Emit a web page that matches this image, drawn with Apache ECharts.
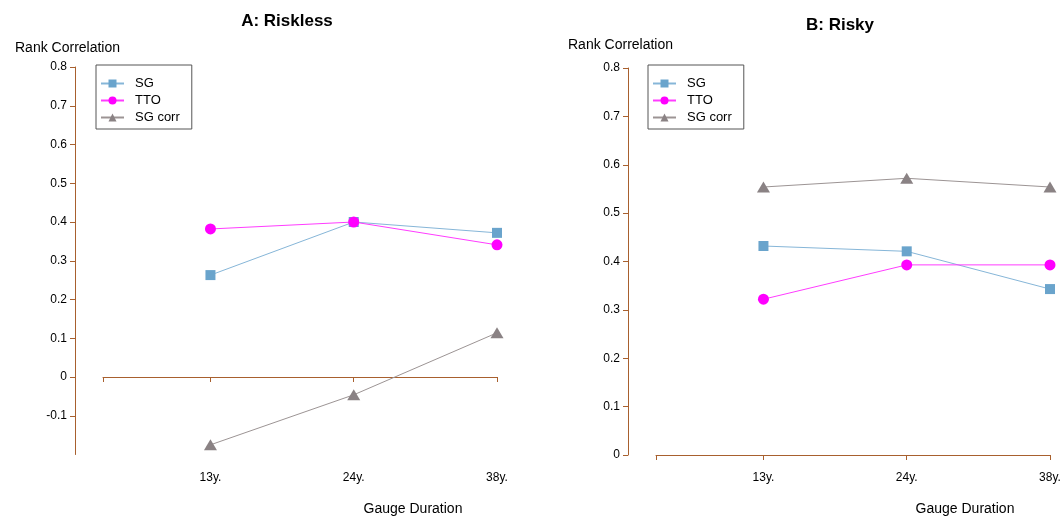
<!DOCTYPE html>
<html>
<head>
<meta charset="utf-8">
<script src="https://cdn.jsdelivr.net/npm/echarts@6/dist/echarts.min.js"></script>
<style>
html,body{margin:0;padding:0;background:#fff;}
#c{width:1064px;height:517px;}
</style>
</head>
<body>
<div id="c"></div>
<script>
var categories = ['13y.', '24y.', '38y.'];
var seriesNames = ['SG', 'TTO', 'SG corr'];
var risklessSG = [0.263, 0.40, 0.372];
var risklessTTO = [0.382, 0.40, 0.341];
var risklessSGcorr = [-0.175, -0.046, 0.114];
var riskySG = [0.432, 0.421, 0.343];
var riskyTTO = [0.322, 0.393, 0.393];
var riskySGcorr = [0.554, 0.572, 0.554];
var yTicksA = [-0.1, 0, 0.1, 0.2, 0.3, 0.4, 0.5, 0.6, 0.7, 0.8];
var yTicksB = [0, 0.1, 0.2, 0.3, 0.4, 0.5, 0.6, 0.7, 0.8];
var xPositions = [1, 2, 3];
var xTickPositions = [0.25, 1, 2, 3];

var AX = '#a8602e';
var FONT = 'Liberation Sans, Arial, sans-serif';

function pts(vals) { return vals.map(function (v, i) { return [xPositions[i], v]; }); }

var styles = {
  'SG': { symbol: 'rect', size: 10, line: '#86b6d8', mark: '#6aa4cc' },
  'TTO': { symbol: 'circle', size: 11, line: '#ff3cff', mark: '#ff00ff' },
  'SG corr': { symbol: 'triangle', size: [13, 11], line: '#9c9494', mark: '#8a8284' }
};

function mkSeries(name, vals, gi) {
  var s = styles[name];
  return {
    type: 'line', name: name, xAxisIndex: gi * 2, yAxisIndex: gi,
    data: pts(vals), symbol: s.symbol, symbolSize: s.size,
    lineStyle: { color: s.line, width: 1 },
    itemStyle: { color: s.mark },
    animation: false, z: 3
  };
}

function xAxesFor(gi) {
  return [
    {
      type: 'value', gridIndex: gi, min: 0.25, max: 3,
      axisLine: { show: true, onZero: true, lineStyle: { color: AX, width: 1, opacity: 1 } },
      axisTick: { show: true, length: 5, inside: false, customValues: xTickPositions, lineStyle: { color: AX, width: 1 } },
      axisLabel: { show: false },
      splitLine: { show: false }
    },
    {
      type: 'value', gridIndex: gi, min: 0.25, max: 3, position: 'bottom',
      axisLine: { show: false, onZero: false },
      axisTick: { show: false },
      axisLabel: {
        show: true, customValues: xPositions, margin: 17,
        color: '#000', fontSize: 12, fontFamily: FONT,
        formatter: function (v) { return categories[Math.round(v) - 1]; }
      },
      splitLine: { show: false }
    }
  ];
}

function yAxisFor(gi, min, ticks) {
  return {
    type: 'value', gridIndex: gi, min: min, max: 0.8, offset: 28,
    axisLine: { show: true, onZero: false, lineStyle: { color: AX, width: 1, opacity: 1 } },
    axisTick: { show: true, length: 5, customValues: ticks, lineStyle: { color: AX, width: 1 } },
    axisLabel: {
      show: true, customValues: ticks, margin: 8, color: '#000', fontSize: 12, fontFamily: FONT,
      formatter: function (v) { return String(Math.round(v * 10) / 10); }
    },
    splitLine: { show: false }
  };
}

function legendFor(left) {
  return {
    orient: 'vertical', left: left, top: 65,
    data: seriesNames,
    itemWidth: 23, itemHeight: 10, itemGap: 4,
    padding: [12, 12, 5, 4],
    borderColor: '#555', borderWidth: 1,
    textStyle: { color: '#000', fontSize: 13, fontFamily: FONT, padding: [0, 0, 0, 6] },
    selectedMode: false
  };
}

var chart = echarts.init(document.getElementById('c'), null, { renderer: 'canvas' });
chart.setOption({
  backgroundColor: '#fff',
  animation: false,
  title: [
    { text: 'A: Riskless', left: 282, top: 8, textAlign: 'center', textStyle: { fontSize: 17, fontWeight: 'bold', color: '#000', fontFamily: FONT } },
    { text: 'B: Risky', left: 835, top: 12, textAlign: 'center', textStyle: { fontSize: 17, fontWeight: 'bold', color: '#000', fontFamily: FONT } },
    { text: 'Rank Correlation', left: 10, top: 36, textStyle: { fontSize: 14, fontWeight: 'normal', color: '#000', fontFamily: FONT } },
    { text: 'Rank Correlation', left: 563, top: 33, textStyle: { fontSize: 14, fontWeight: 'normal', color: '#000', fontFamily: FONT } },
    { text: 'Gauge Duration', left: 408, top: 497, textAlign: 'center', textStyle: { fontSize: 14, fontWeight: 'normal', color: '#000', fontFamily: FONT } },
    { text: 'Gauge Duration', left: 960, top: 497, textAlign: 'center', textStyle: { fontSize: 14, fontWeight: 'normal', color: '#000', fontFamily: FONT } }
  ],
  legend: [legendFor(96), legendFor(648)],
  grid: [
    { left: 103, right: 567, top: 67, bottom: 62.5, containLabel: false },
    { left: 656, right: 14, top: 68, bottom: 62, containLabel: false }
  ],
  xAxis: xAxesFor(0).concat(xAxesFor(1)),
  yAxis: [yAxisFor(0, -0.2, yTicksA), yAxisFor(1, 0, yTicksB)],
  series: [
    mkSeries('SG', risklessSG, 0),
    mkSeries('TTO', risklessTTO, 0),
    mkSeries('SG corr', risklessSGcorr, 0),
    mkSeries('SG', riskySG, 1),
    mkSeries('TTO', riskyTTO, 1),
    mkSeries('SG corr', riskySGcorr, 1)
  ]
});
</script>
</body>
</html>
